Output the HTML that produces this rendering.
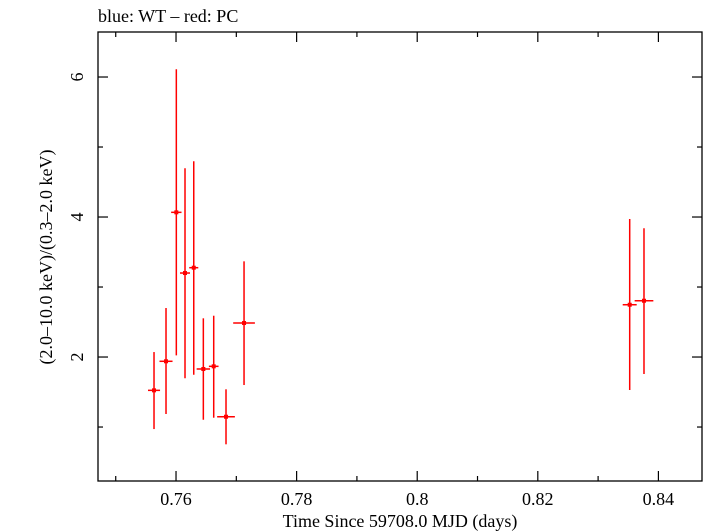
<!DOCTYPE html>
<html><head><meta charset="utf-8"><style>
html,body{margin:0;padding:0;background:#fff;}
svg{display:block;font-family:"Liberation Serif",serif;}
</style></head><body>
<svg id="chart" width="705" height="532" viewBox="0 0 705 532" xmlns="http://www.w3.org/2000/svg">
<text x="98" y="22" font-size="18" fill="#000">blue: WT – red: PC</text>
<text transform="translate(52,257) rotate(-90)" text-anchor="middle" font-size="18" fill="#000">(2.0–10.0 keV)/(0.3–2.0 keV)</text>
<text x="400" y="527" text-anchor="middle" font-size="18" fill="#000">Time Since 59708.0 MJD (days)</text>
<rect x="98" y="32" width="604" height="449" fill="none" stroke="#000" stroke-width="1.3"/>
<g id="ticks"></g>
<g id="marks"></g>
</svg>
<script>
const times = [0.75635,0.75834,0.76005,0.76149,0.76294,0.76453,0.76625,0.76829,0.77128,0.83524,0.83761];
const timeErr = [0.0010,0.00108,0.00086,0.00083,0.00075,0.00111,0.0008,0.00147,0.0018,0.00116,0.00155];
const ratios = [1.524,1.939,4.067,3.2,3.276,1.829,1.867,1.147,2.486,2.747,2.804];
const ratioHi = [2.071,2.70,6.11,4.696,4.796,2.553,2.59,1.539,3.367,3.971,3.839];
const ratioLo = [0.971,1.186,2.024,1.696,1.747,1.104,1.133,0.753,1.6,1.529,1.757];
const xMajor = [0.76,0.78,0.80,0.82,0.84];
const xLabels = ["0.76","0.78","0.8","0.82","0.84"];
const xMinor = [0.75,0.77,0.79,0.81,0.83];
const yMajor = [2,4,6];
const yLabels = ["2","4","6"];
const yMinor = [1,3,5];

const L=98,R=702,T=32,B=481;
const xMin=0.74706,xMax=0.84723,yMin=0.229,yMax=6.643;
function xs(v){return L+(v-xMin)/(xMax-xMin)*(R-L);}
function ys(v){return B-(v-yMin)/(yMax-yMin)*(B-T);}
const NS="http://www.w3.org/2000/svg";
function mk(tag,attrs,parent){const e=document.createElementNS(NS,tag);for(const k in attrs)e.setAttribute(k,attrs[k]);parent.appendChild(e);return e;}
const tg=document.getElementById('ticks');
const mg=document.getElementById('marks');
xMajor.forEach((v,i)=>{
  const x=xs(v);
  let t=mk('line',{x1:x,x2:x,y1:B,y2:B-10,stroke:'#000','stroke-width':1.2},tg);
  
  
  t=mk('line',{x1:x,x2:x,y1:T,y2:T+10,stroke:'#000','stroke-width':1.2},tg);
  
  
  const lb=mk('text',{x:x,y:505,'text-anchor':'middle','font-size':18},tg);
  lb.textContent=xLabels[i];
  
  
});
xMinor.forEach(v=>{
  const x=xs(v);
  let t=mk('line',{x1:x,x2:x,y1:B,y2:B-5,stroke:'#000','stroke-width':1.2},tg);
  
  
  t=mk('line',{x1:x,x2:x,y1:T,y2:T+5,stroke:'#000','stroke-width':1.2},tg);
  
  
});
yMajor.forEach((v,i)=>{
  const y=ys(v);
  let t=mk('line',{x1:L,x2:L+10,y1:y,y2:y,stroke:'#000','stroke-width':1.2},tg);
  
  
  t=mk('line',{x1:R,x2:R-10,y1:y,y2:y,stroke:'#000','stroke-width':1.2},tg);
  
  
  const lb=mk('text',{transform:`translate(83,${y}) rotate(-90)`,'text-anchor':'middle','font-size':18},tg);
  lb.textContent=yLabels[i];
  
  
});
yMinor.forEach(v=>{
  const y=ys(v);
  let t=mk('line',{x1:L,x2:L+5,y1:y,y2:y,stroke:'#000','stroke-width':1.2},tg);
  
  
  t=mk('line',{x1:R,x2:R-5,y1:y,y2:y,stroke:'#000','stroke-width':1.2},tg);
  
  
});
times.forEach((t,i)=>{
  const x=xs(t),y=ys(ratios[i]);
  const g=mk('g',{},mg);
  
  
  mk('line',{x1:x,x2:x,y1:ys(ratioHi[i]),y2:ys(ratioLo[i]),stroke:'#f00','stroke-width':1.5},g);
  mk('line',{x1:xs(t-timeErr[i]),x2:xs(t+timeErr[i]),y1:y,y2:y,stroke:'#f00','stroke-width':1.5},g);
  mk('rect',{x:x-2,y:y-2,width:4,height:4,fill:'#f00'},g);
});
</script>
</body></html>
